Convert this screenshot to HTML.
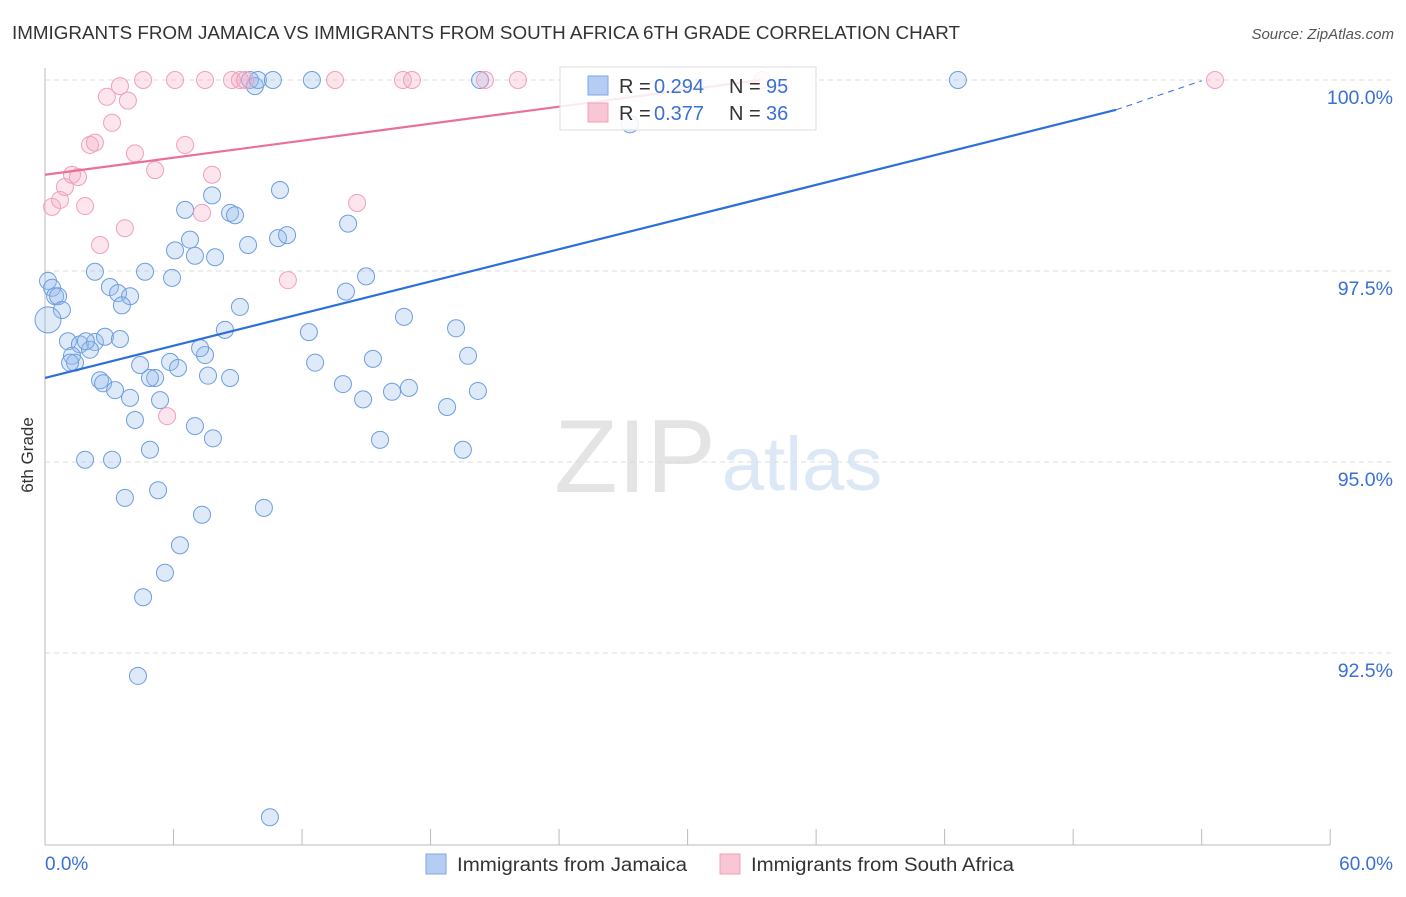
<!DOCTYPE html>
<html><head><meta charset="utf-8"><style>
body{margin:0;background:#fff;font-family:"Liberation Sans",sans-serif;}
svg text{font-family:"Liberation Sans",sans-serif;}
</style></head><body>
<svg id="c" width="1406" height="892" xmlns="http://www.w3.org/2000/svg">
<text x="12" y="39" font-size="18" fill="#333" textLength="948" lengthAdjust="spacingAndGlyphs">IMMIGRANTS FROM JAMAICA VS IMMIGRANTS FROM SOUTH AFRICA 6TH GRADE CORRELATION CHART</text>
<text x="1394" y="39" font-size="15" fill="#555" font-style="italic" text-anchor="end">Source: ZipAtlas.com</text>
<text x="33" y="455" font-size="17" fill="#333" transform="rotate(-90 33 455)" text-anchor="middle">6th Grade</text>
<g><text x="635" y="492" font-size="104" fill="#e4e4e4" font-family="Liberation Serif" text-anchor="middle">ZIP</text><text x="802" y="490" font-size="76" fill="#dde8f6" text-anchor="middle">atlas</text></g>
<g id="grid"></g><g id="axes"></g><g id="pts"></g><g id="lines"></g>
<g>
<rect x="560" y="67" width="256" height="63" fill="#fff" fill-opacity="0.85" stroke="#ddd"/>
<rect x="588" y="76" width="20" height="19" fill="#b5cdf2" stroke="#7ea6e6"/>
<rect x="588" y="103" width="20" height="19" fill="#f9c6d5" stroke="#f0a0b8"/>
<text x="619" y="93" font-size="20" fill="#333">R =</text><text x="654" y="93" font-size="20" fill="#3a6fd5">0.294</text>
<text x="729" y="93" font-size="20" fill="#333">N =</text><text x="766" y="93" font-size="20" fill="#3a6fd5">95</text>
<text x="619" y="120" font-size="20" fill="#333">R =</text><text x="654" y="120" font-size="20" fill="#3a6fd5">0.377</text>
<text x="729" y="120" font-size="20" fill="#333">N =</text><text x="766" y="120" font-size="20" fill="#3a6fd5">36</text>
</g>
<g>
<rect x="426" y="854" width="20" height="20" fill="#b5cdf2" stroke="#7ea6e6"/>
<text x="457" y="871" font-size="19" fill="#333" textLength="230" lengthAdjust="spacingAndGlyphs">Immigrants from Jamaica</text>
<rect x="720" y="854" width="20" height="20" fill="#f9c6d5" stroke="#f0a0b8"/>
<text x="751" y="871" font-size="19" fill="#333" textLength="263" lengthAdjust="spacingAndGlyphs">Immigrants from South Africa</text>
</g>
</svg>
<script>
const blueX=[0.14,0.33,0.47,0.61,0.79,0.14,2.33,3.03,3.41,3.97,3.59,1.07,1.63,2.33,2.80,3.50,1.26,2.10,1.40,1.17,2.57,2.71,3.27,3.97,4.20,4.44,5.14,5.37,5.84,6.21,6.07,6.77,7.00,7.94,6.54,7.80,8.64,8.87,9.48,10.97,10.88,11.30,9.10,8.40,7.47,7.24,7.61,8.64,7.00,7.84,5.93,4.67,4.90,1.87,3.13,3.73,5.28,7.33,6.30,5.60,4.58,4.34,10.22,10.50,9.57,9.80,9.94,10.64,12.46,20.31,42.62,27.31,14.15,14.99,14.05,12.32,12.61,13.91,14.85,15.31,15.64,16.20,16.99,16.76,19.19,19.75,18.77,20.21,19.51,4.90,1.91];
const blueY=[97.37,97.28,97.17,97.17,96.99,96.86,97.49,97.29,97.21,97.17,97.05,96.58,96.54,96.57,96.64,96.61,96.39,96.47,96.30,96.30,96.07,96.03,95.94,95.84,95.55,96.27,96.10,95.81,96.31,96.23,97.77,97.91,97.70,97.68,98.30,98.49,98.26,98.23,97.84,98.56,97.93,97.97,97.03,96.73,96.40,96.49,96.13,96.10,95.47,95.31,97.41,97.49,95.16,95.03,95.03,94.53,94.63,94.31,93.91,93.55,93.23,92.20,94.40,90.35,100,99.92,100,100,100,100,100,99.42,98.12,97.43,97.23,96.70,96.30,96.02,95.82,96.35,95.29,95.92,95.97,96.90,96.75,96.39,95.72,95.93,95.16,96.10,96.58];
const pinkX=[0.33,0.70,0.93,1.26,1.54,1.87,2.57,2.10,2.33,2.89,3.50,3.87,3.13,4.20,3.73,5.14,6.54,7.80,7.33,4.58,6.07,7.47,8.73,9.10,9.34,13.54,16.71,17.13,20.54,22.08,11.34,14.57,5.70,33.47,54.62];
const pinkY=[98.34,98.43,98.60,98.76,98.73,98.35,97.84,99.15,99.18,99.78,99.92,99.73,99.44,99.04,98.06,98.82,99.15,98.76,98.26,100,100,100,100,100,100,100,100,100,100,100,97.38,98.39,95.60,100,100];
const yTicks=[100,97.5,95,92.5];
const yTickLabels=["100.0%","97.5%","95.0%","92.5%"];
const xTicks=[0,6,12,18,24,30,36,42,48,54,60];
const blueTrend=[0,96.10,50,99.61,54,99.99];
const pinkTrend=[0,98.76,33.4,100];
const X=v=>45+v*21.42, Y=v=>80+(100-v)*76.4;
const NS="http://www.w3.org/2000/svg";
function mk(t,a,p){const e=document.createElementNS(NS,t);for(const k in a)e.setAttribute(k,a[k]);document.getElementById(p).appendChild(e);return e;}
yTicks.forEach((t,i)=>{
 const g=mk('line',{x1:45,x2:1394,y1:Y(t),y2:Y(t),stroke:'#ddd','stroke-dasharray':'5,4'},'grid');
 
 
 const l=mk('text',{x:1393,y:Y(t)+24,'font-size':19.5,fill:'#3a6fd5','text-anchor':'end'},'axes');
 l.textContent=yTickLabels[i];
 
 
});
const ax=mk('line',{x1:45,x2:1330,y1:845,y2:845,stroke:'#bbb'},'axes');


const ay=mk('line',{x1:45,x2:45,y1:68,y2:845,stroke:'#bbb'},'axes');


xTicks.forEach(t=>{
 const k=mk('line',{x1:X(t),x2:X(t),y1:829,y2:845,stroke:'#bbb'},'axes');
 
 
});
const xl0=mk('text',{x:45,y:870,'font-size':19,fill:'#3a6fd5'},'axes');xl0.textContent='0.0%';


const xl1=mk('text',{x:1393,y:870,'font-size':19,fill:'#3a6fd5','text-anchor':'end'},'axes');xl1.textContent='60.0%';


blueX.forEach((x,i)=>{
 const c=mk('circle',{cx:X(x),cy:Y(blueY[i]),r:(i===5?13:8.5),fill:'rgba(150,185,235,0.3)',stroke:'#6d9de2','stroke-width':1},'pts');
 
 
});
pinkX.forEach((x,i)=>{
 const c=mk('circle',{cx:X(x),cy:Y(pinkY[i]),r:8.5,fill:'rgba(245,170,195,0.3)',stroke:'#f0a0b8','stroke-width':1},'pts');
 
 
});
const bl=mk('line',{x1:X(blueTrend[0]),y1:Y(blueTrend[1]),x2:X(blueTrend[2]),y2:Y(blueTrend[3]),stroke:'#2d6fd8','stroke-width':2.2},'lines');


const bd=mk('line',{x1:X(blueTrend[2]),y1:Y(blueTrend[3]),x2:X(blueTrend[4]),y2:Y(blueTrend[5]),stroke:'#2d6fd8','stroke-width':1,'stroke-dasharray':'6,5'},'lines');


const pl=mk('line',{x1:X(pinkTrend[0]),y1:Y(pinkTrend[1]),x2:X(pinkTrend[2]),y2:Y(pinkTrend[3]),stroke:'#e8709a','stroke-width':2.2},'lines');


</script>
</body></html>
